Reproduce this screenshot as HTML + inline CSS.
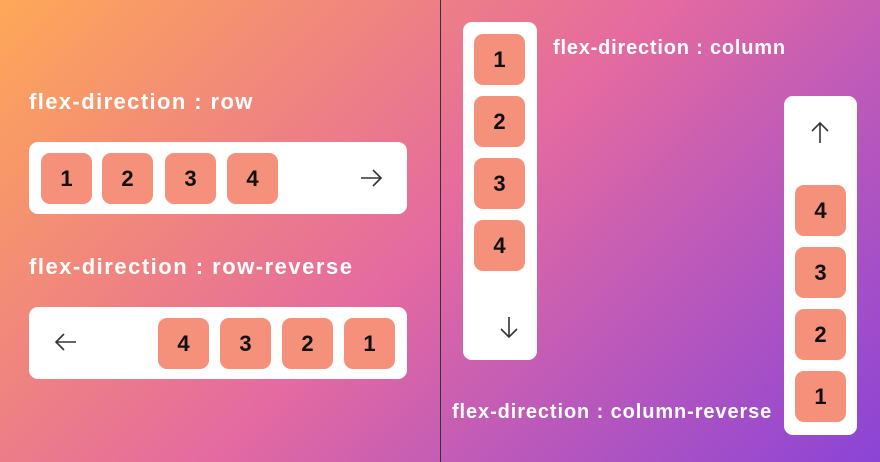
<!DOCTYPE html>
<html><head><style>
body{margin:0;width:880px;height:462px;overflow:hidden;position:relative;font-family:"Liberation Sans",sans-serif;
background:linear-gradient(135deg,#fea857 0%,#f0857e 28%,#e46aa0 50%,#c25cb6 68%,#8b44d6 100%);}
.c{position:absolute;background:#fff;border-radius:9px}
.b{position:absolute;width:51px;height:51px;background:#f5917a;border-radius:9px;font-weight:bold;font-size:22px;color:#111;display:flex;align-items:center;justify-content:center}
.l{position:absolute;color:#fff;font-weight:bold;font-size:20px;white-space:nowrap}
svg{position:absolute}
</style></head><body>
<div style="position:absolute;left:440px;top:0;width:1px;height:462px;background:#333"></div>
<div class="l" style="left:29px;top:89px;font-size:22px;letter-spacing:1.4px">flex-direction : row</div>
<div class="c" style="left:29px;top:142px;width:378px;height:72px"></div>
<div class="b" style="left:41px;top:153px">1</div>
<div class="b" style="left:102px;top:153px">2</div>
<div class="b" style="left:165px;top:153px">3</div>
<div class="b" style="left:227px;top:153px">4</div>
<svg style="left:359px;top:169px" width="24" height="18"><path d="M2 9H22M14 1L22 9L14 17" fill="none" stroke="#333" stroke-width="1.6"/></svg>
<div class="l" style="left:29px;top:254px;font-size:22px;letter-spacing:1.5px">flex-direction : row-reverse</div>
<div class="c" style="left:29px;top:307px;width:378px;height:72px"></div>
<div class="b" style="left:158px;top:318px">4</div>
<div class="b" style="left:220px;top:318px">3</div>
<div class="b" style="left:282px;top:318px">2</div>
<div class="b" style="left:344px;top:318px">1</div>
<svg style="left:54px;top:333px" width="24" height="18"><path d="M22 9H2M10 1L2 9L10 17" fill="none" stroke="#333" stroke-width="1.6"/></svg>
<div class="c" style="left:463px;top:22px;width:74px;height:338px"></div>
<div class="b" style="left:474px;top:34px">1</div>
<div class="b" style="left:474px;top:96px">2</div>
<div class="b" style="left:474px;top:158px">3</div>
<div class="b" style="left:474px;top:220px">4</div>
<svg style="left:500px;top:315px" width="18" height="24"><path d="M9 2V22M1 14L9 22L17 14" fill="none" stroke="#333" stroke-width="1.6"/></svg>
<div class="l" style="left:553px;top:37px;letter-spacing:0.8px">flex-direction : column</div>
<div class="c" style="left:784px;top:96px;width:73px;height:339px"></div>
<svg style="left:811px;top:121px" width="18" height="24"><path d="M9 22V2M1 10L9 2L17 10" fill="none" stroke="#333" stroke-width="1.6"/></svg>
<div class="b" style="left:795px;top:185px">4</div>
<div class="b" style="left:795px;top:247px">3</div>
<div class="b" style="left:795px;top:309px">2</div>
<div class="b" style="left:795px;top:371px">1</div>
<div class="l" style="left:452px;top:401px;letter-spacing:0.9px">flex-direction : column-reverse</div>
</body></html>
